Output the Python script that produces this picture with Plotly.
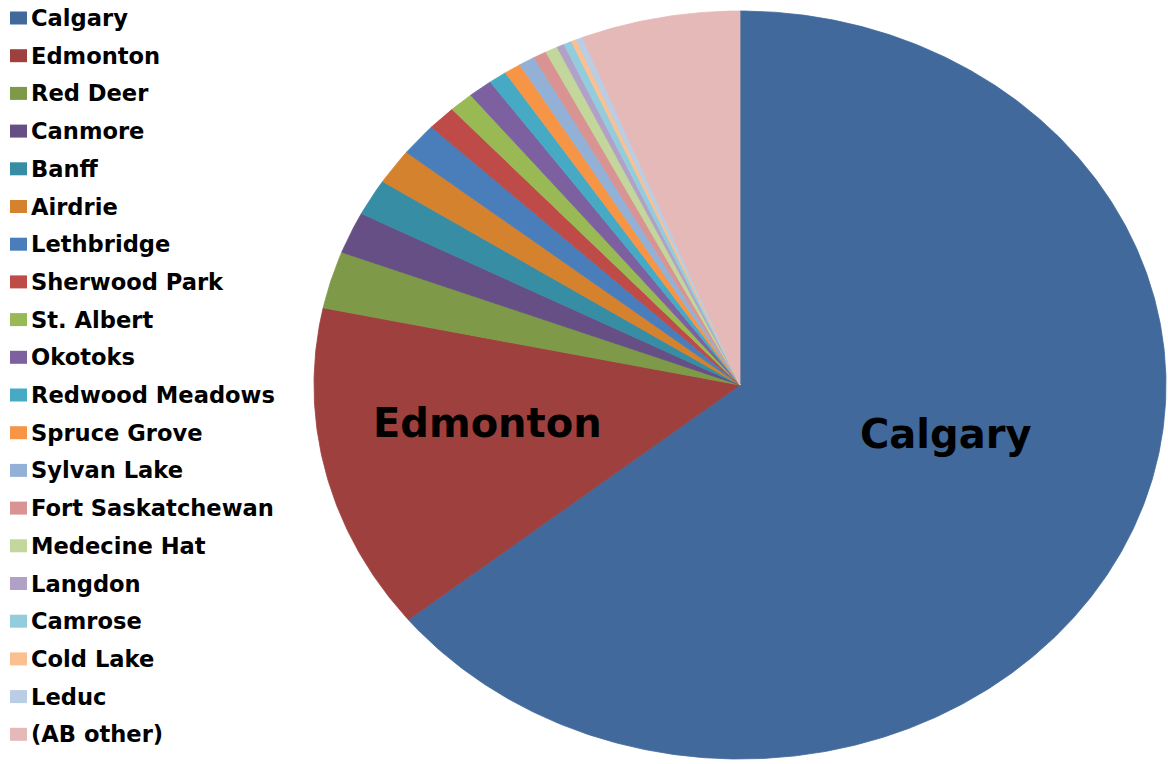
import numpy as np
import plotly.graph_objects as go

# Share of respondents by home town (percent)
cities = ["Calgary", "Edmonton", "Red Deer", "Canmore", "Banff", "Airdrie",
          "Lethbridge", "Sherwood Park", "St. Albert", "Okotoks",
          "Redwood Meadows", "Spruce Grove", "Sylvan Lake", "Fort Saskatchewan",
          "Medecine Hat", "Langdon", "Camrose", "Cold Lake", "Leduc", "(AB other)"]
share = [64.2, 14.1, 2.47, 1.80, 1.58, 1.53,
         1.42, 1.08, 0.92, 0.92,
         0.69, 0.64, 0.61, 0.50,
         0.47, 0.28, 0.31, 0.19, 0.25, 6.03]
colors = ["#41699B", "#9E413E", "#7E9A48", "#664F84", "#378DA4", "#D5822F",
          "#4A7EBB", "#BE4B48", "#98B954", "#7D60A0",
          "#46AAC5", "#F69545", "#93B1D6", "#D99392",
          "#C3D69B", "#B2A1C7", "#93CDDD", "#FAC090", "#B9CDE5", "#E5B9B7"]
slice_labels = {"Calgary": (945, 434), "Edmonton": (487, 423)}

W, H = 1168, 764
cx, cy, rx, ry = 740, 385, 426, 374

fig = go.Figure()

# Pie slices, clockwise from 12 o'clock, drawn as filled wedges
frac = np.array(share, dtype=float) / np.sum(share)
cum = np.concatenate([[0.0], np.cumsum(frac)]) * 2 * np.pi
for name, c, a0, a1 in zip(cities, colors, cum[:-1], cum[1:]):
    n = max(3, int(np.degrees(a1 - a0) * 2) + 2)
    phi = np.linspace(a0, a1, n)
    xs = np.concatenate([[cx], cx + rx * np.sin(phi), [cx]])
    ys = np.concatenate([[cy], cy - ry * np.cos(phi), [cy]])
    fig.add_trace(go.Scatter(
        x=xs, y=ys, mode="lines", fill="toself", fillcolor=c,
        line=dict(color=c, width=0.8), name=name, showlegend=False,
        hoverinfo="name"))

# Legend column on the left
row0, step = 18, 37.7
for i, (name, c) in enumerate(zip(cities, colors)):
    yc = row0 + i * step
    fig.add_shape(type="rect", xref="x", yref="y", x0=10, x1=27,
                  y0=yc - 6.5, y1=yc + 6.5, fillcolor=c, line=dict(width=0))
    fig.add_annotation(x=29, y=yc, xref="x", yref="y", text=name,
                       showarrow=False, xanchor="left", yanchor="middle",
                       font=dict(family="DejaVu Sans", size=22.6, color="#000000",
                                 weight="bold"))

# Slice labels
for name, (lx, ly) in slice_labels.items():
    fig.add_annotation(x=lx, y=ly, xref="x", yref="y", text=name,
                       showarrow=False, xanchor="center", yanchor="middle",
                       font=dict(family="DejaVu Sans", size=40, color="#000000",
                                 weight="bold"))

fig.update_layout(
    width=W, height=H,
    margin=dict(l=0, r=0, t=0, b=0),
    paper_bgcolor="white", plot_bgcolor="white",
    xaxis=dict(range=[0, W], visible=False, fixedrange=True),
    yaxis=dict(range=[H, 0], visible=False, fixedrange=True),
    showlegend=False,
)

fig.write_html("out.html")
